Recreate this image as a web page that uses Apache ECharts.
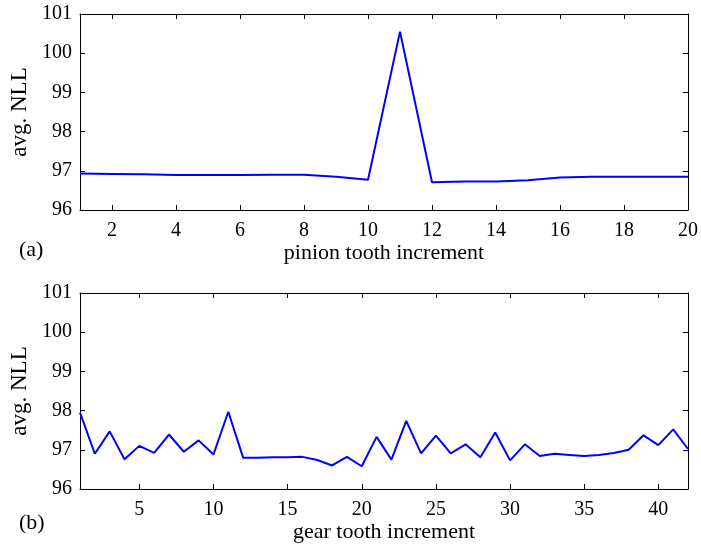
<!DOCTYPE html>
<html>
<head>
<meta charset="utf-8">
<script src="https://cdn.jsdelivr.net/npm/echarts@6/dist/echarts.min.js"></script>
<style>html,body{margin:0;padding:0;background:#fff;}#c{width:701px;height:547px;}</style>
</head>
<body>
<div id="c"></div>
<script>
const pinionX = [1,2,3,4,5,6,7,8,9,10,11,12,13,14,15,16,17,18,19,20];
const pinionNLL = [96.93,96.92,96.91,96.89,96.89,96.89,96.90,96.90,96.85,96.77,100.55,96.71,96.73,96.73,96.76,96.83,96.85,96.85,96.85,96.85];
const gearX = [1,2,3,4,5,6,7,8,9,10,11,12,13,14,15,16,17,18,19,20,21,22,23,24,25,26,27,28,29,30,31,32,33,34,35,36,37,38,39,40,41,42];
const gearNLL = [97.95,96.90,97.47,96.76,97.10,96.92,97.39,96.95,97.24,96.88,97.97,96.80,96.80,96.81,96.81,96.82,96.74,96.60,96.82,96.58,97.33,96.75,97.74,96.91,97.36,96.91,97.14,96.81,97.44,96.73,97.14,96.84,96.90,96.87,96.84,96.87,96.92,97.00,97.37,97.12,97.52,97.02];
const pinionTicks = [2,4,6,8,10,12,14,16,18,20];
const gearTicks = [5,10,15,20,25,30,35,40];

const FONT = 'Liberation Serif';
const FS = 20;
const NFS = 22;
const black = '#000';

function xAxes(gridIndex, min, max, ticks, name){
  const base = {
    type:'value', gridIndex, min, max,
    axisLine:{show:true, onZero:false, lineStyle:{color:black,width:1}},
    splitLine:{show:false},
    axisTick:{show:true, inside:true, length:5, lineStyle:{color:black}, customValues:ticks},
  };
  return [
    Object.assign({}, base, {position:'bottom',
      axisLabel:{show:true, customValues:ticks, margin:11, color:black, fontFamily:FONT, fontSize:FS},
      name, nameLocation:'middle', nameGap:32,
      nameTextStyle:{color:black, fontFamily:FONT, fontSize:NFS}}),
    Object.assign({}, base, {position:'top', axisLabel:{show:false}})
  ];
}
function yAxes(gridIndex){
  const base = {
    type:'value', gridIndex, min:96, max:101, interval:1,
    axisLine:{show:true, onZero:false, lineStyle:{color:black,width:1}},
    splitLine:{show:false},
    axisTick:{show:true, inside:true, length:5, lineStyle:{color:black}},
  };
  return [
    Object.assign({}, base, {position:'left',
      axisLabel:{show:true, margin:8, color:black, fontFamily:FONT, fontSize:FS},
      name:'avg. NLL', nameLocation:'middle', nameGap:48, nameRotate:90,
      nameTextStyle:{color:black, fontFamily:FONT, fontSize:NFS+1}}),
    Object.assign({}, base, {position:'right', axisLabel:{show:false}})
  ];
}

const chart = echarts.init(document.getElementById('c'), null, {renderer:'canvas'});
chart.setOption({
  backgroundColor:'#fff',
  animation:false,
  grid:[
    {left:80, right:13, top:14, height:196},
    {left:80, right:13, top:293, height:196}
  ],
  xAxis:[
    ...xAxes(0, 1, 20, pinionTicks, 'pinion tooth increment'),
    ...xAxes(1, 1, 42, gearTicks, 'gear tooth increment')
  ],
  yAxis:[...yAxes(0), ...yAxes(1)],
  graphic:[
    {type:'text', left:19, top:239, style:{text:'(a)', fill:black, font:NFS+'px "'+FONT+'"'}},
    {type:'text', left:19, top:512, style:{text:'(b)', fill:black, font:NFS+'px "'+FONT+'"'}}
  ],
  series:[
    {type:'line', xAxisIndex:0, yAxisIndex:0, data:pinionX.map((x,i)=>[x,pinionNLL[i]]),
      showSymbol:false, lineStyle:{color:'#0000ff', width:2}, itemStyle:{color:'#0000ff'}},
    {type:'line', xAxisIndex:2, yAxisIndex:2, data:gearX.map((x,i)=>[x,gearNLL[i]]),
      showSymbol:false, lineStyle:{color:'#0000ff', width:2}, itemStyle:{color:'#0000ff'}}
  ]
});
</script>
</body>
</html>
